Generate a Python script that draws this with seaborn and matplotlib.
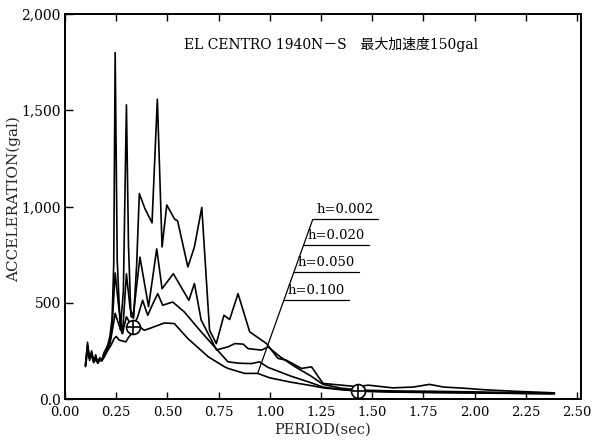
import numpy as np
import pandas as pd
import matplotlib
matplotlib.use("Agg")
import matplotlib.pyplot as plt
import seaborn as sns

# Acceleration response spectra, EL CENTRO 1940 N-S, peak 150 gal
period_h002 = [0.100, 0.110, 0.120, 0.130, 0.140, 0.150, 0.160, 0.170, 0.180, 0.190,
               0.200, 0.210, 0.220, 0.230, 0.238, 0.245, 0.255, 0.270, 0.285, 0.300,
               0.310, 0.322, 0.335, 0.350, 0.363, 0.390, 0.425, 0.451, 0.474, 0.497,
               0.535, 0.550, 0.600, 0.632, 0.668, 0.706, 0.739, 0.776, 0.804, 0.845,
               0.902, 0.984, 1.040, 1.080, 1.155, 1.204, 1.260, 1.350, 1.430, 1.480,
               1.600, 1.700, 1.780, 1.850, 1.950, 2.050, 2.200, 2.390]
accel_h002 = [175, 295, 200, 250, 190, 230, 185, 215, 200, 240,
              260, 285, 330, 420, 700, 1800, 720, 360, 560, 1528,
              800, 430, 420, 700, 1067, 990, 915, 1558, 790, 1008,
              935, 925, 686, 790, 995, 357, 288, 435, 413, 547,
              349, 288, 211, 202, 159, 167, 81, 72, 64, 72,
              58, 62, 76, 62, 56, 48, 40, 32]

period_h020 = [0.100, 0.110, 0.120, 0.130, 0.140, 0.150, 0.160, 0.170, 0.180, 0.190,
               0.200, 0.210, 0.220, 0.230, 0.245, 0.262, 0.281, 0.300, 0.318, 0.333,
               0.366, 0.408, 0.448, 0.474, 0.529, 0.605, 0.632, 0.665, 0.740, 0.796,
               0.830, 0.870, 0.894, 0.960, 0.992, 1.050, 1.120, 1.200, 1.260, 1.350,
               1.450, 1.600, 1.800, 2.000, 2.200, 2.390]
accel_h020 = [180, 280, 210, 240, 200, 215, 195, 210, 205, 230,
              250, 270, 300, 380, 655, 480, 340, 650, 470, 430,
              737, 480, 780, 573, 651, 513, 600, 410, 255, 271,
              288, 285, 262, 254, 271, 220, 170, 120, 76, 56,
              46, 42, 40, 37, 33, 30]

period_h050 = [0.100, 0.110, 0.120, 0.130, 0.140, 0.150, 0.160, 0.170, 0.180, 0.190,
               0.200, 0.210, 0.220, 0.235, 0.245, 0.265, 0.280, 0.300, 0.330, 0.355,
               0.379, 0.404, 0.430, 0.453, 0.477, 0.526, 0.583, 0.665, 0.730, 0.796,
               0.850, 0.910, 0.950, 0.990, 1.100, 1.200, 1.260, 1.350, 1.450, 1.600,
               1.800, 2.000, 2.200, 2.390]
accel_h050 = [170, 270, 215, 235, 195, 210, 190, 205, 200, 225,
              245, 260, 290, 380, 445, 380, 340, 427, 370, 427,
              513, 435, 497, 547, 487, 504, 452, 349, 271, 193,
              186, 184, 193, 165, 120, 85, 62, 50, 42, 38,
              35, 33, 30, 28]

period_h100 = [0.100, 0.110, 0.120, 0.130, 0.140, 0.150, 0.160, 0.170, 0.180, 0.190,
               0.200, 0.210, 0.225, 0.240, 0.250, 0.265, 0.297, 0.310, 0.330, 0.355,
               0.387, 0.412, 0.485, 0.534, 0.600, 0.700, 0.780, 0.796, 0.877, 0.941,
               1.000, 1.100, 1.200, 1.260, 1.350, 1.450, 1.600, 1.800, 2.000, 2.200,
               2.390]
accel_h100 = [168, 250, 210, 225, 190, 205, 188, 200, 198, 215,
              235, 255, 280, 314, 325, 306, 297, 320, 345, 383,
              357, 366, 395, 392, 314, 219, 167, 159, 133, 133,
              110, 88, 70, 58, 48, 40, 36, 33, 31, 29,
              27]

damping_labels = ["h=0.002", "h=0.020", "h=0.050", "h=0.100"]

# circled-cross reference points
mark_period = [0.33, 1.43]
mark_accel = [375, 43]

x_ticks = [0.00, 0.25, 0.50, 0.75, 1.00, 1.25, 1.50, 1.75, 2.00, 2.25, 2.50]
x_tick_labels = ["0.00", "0.25", "0.50", "0.75", "1.00", "1.25", "1.50",
                 "1.75", "2.00", "2.25", "2.50"]
y_ticks = [0, 500, 1000, 1500, 2000]
y_tick_labels = ["0.0", "500", "1,000", "1,500", "2,000"]

title_text = "EL CENTRO 1940N－S　最大加速度150gal"

sns.set_theme(style="white")
plt.rcParams["font.family"] = ["DejaVu Serif", "Noto Sans CJK JP"]

fig = plt.figure(figsize=(6.03, 4.43), dpi=100)
ax = fig.add_axes([0.1078, 0.0993, 0.8557, 0.8690])

series = [(period_h002, accel_h002), (period_h020, accel_h020),
          (period_h050, accel_h050), (period_h100, accel_h100)]
frames = []
for lab, (p, a) in zip(damping_labels, series):
    frames.append(pd.DataFrame({"period": p, "accel": a, "h": lab}))
df = pd.concat(frames, ignore_index=True)

for lab in damping_labels:
    sub = df[df["h"] == lab]
    sns.lineplot(data=sub, x="period", y="accel", ax=ax, color="black",
                 lw=1.2, estimator=None, sort=False, legend=False)

# reference markers
ax.plot(mark_period, mark_accel, ls="none", marker="o", ms=10, mfc="white",
        mec="black", mew=1.2, zorder=5)
ax.plot(mark_period, mark_accel, ls="none", marker="+", ms=10,
        mec="black", mew=1.2, zorder=6)

ax.set_xlim(0, 2.52)
ax.set_ylim(0, 2000)
ax.set_xticks(x_ticks)
ax.set_xticklabels(x_tick_labels, fontsize=9.5)
ax.set_yticks(y_ticks)
ax.set_yticklabels(y_tick_labels, fontsize=10)
ax.tick_params(axis="x", direction="in", length=5, width=1.0, top=True,
               bottom=True, pad=5, colors="black")
ax.tick_params(axis="y", direction="in", length=6, width=1.0, left=True,
               right=False, pad=3, colors="black")
for s in ax.spines.values():
    s.set_color("black")
    s.set_linewidth(1.4)

ax.set_xlabel("PERIOD(sec)", fontsize=10.5, labelpad=3)
ax.set_ylabel("ACCELERATION(gal)", fontsize=11)
ax.yaxis.set_label_coords(-0.086, 0.52)

ax.text(0.516, 0.922, title_text, transform=ax.transAxes, ha="center",
        va="center", fontsize=10, color="black",
        family=["DejaVu Serif", "Noto Sans CJK JP"])

# damping labels with leader line anchored on the h=0.100 curve
anchor_T = period_h100[29]
anchor_A = accel_h100[29]
top_T, top_A = 1.21, 933
ax.plot([anchor_T, top_T], [anchor_A, top_A], color="black", lw=0.9)
label_levels = [933, 798, 658, 513]
for lab, lev in zip(damping_labels, label_levels):
    frac = (lev - anchor_A) / (top_A - anchor_A)
    x0 = anchor_T + frac * (top_T - anchor_T)
    ax.plot([x0, x0 + 0.32], [lev, lev], color="black", lw=0.9)
    ax.text(x0 + 0.02, lev + 18, lab, fontsize=9.5, ha="left", va="bottom",
            color="black")

fig.savefig("out.png", dpi=100)
